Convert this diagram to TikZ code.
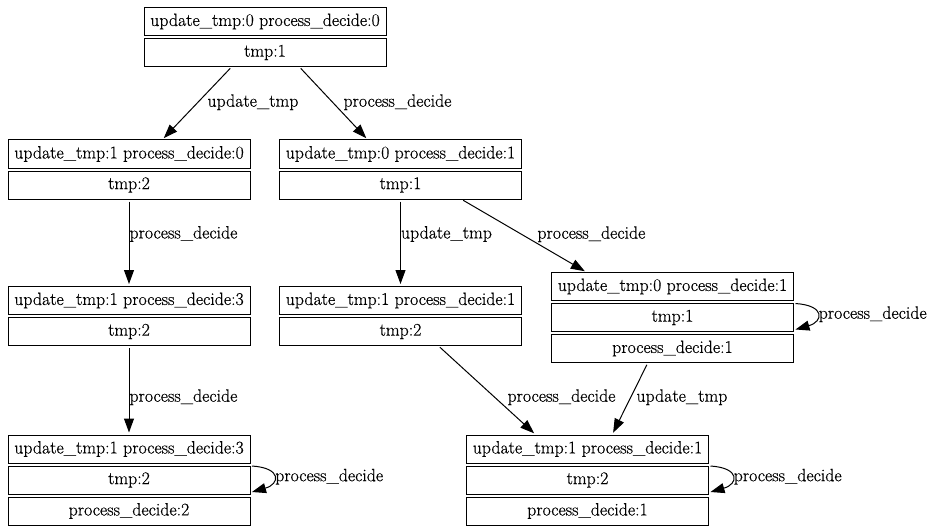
\documentclass[tikz,border=0pt]{standalone}
\usepackage{fontspec}
\setmainfont{Latin Modern Roman}[FakeBold=0.5]
\usetikzlibrary{arrows.meta, positioning}

\tikzset{
  cell/.style={draw, line width=1pt, minimum width=242pt, minimum height=28pt, inner sep=0pt, outer sep=0pt, font=\fontsize{17.8pt}{20pt}\selectfont},
  trans/.style={-{Triangle[length=14pt,width=10pt]}, line width=1pt, shorten <=2.5pt, shorten >=2.5pt},
  lbl/.style={anchor=west, inner sep=0pt, font=\fontsize{17.8pt}{20pt}\selectfont},
}

\begin{document}
\begin{tikzpicture}[x=1pt, y=-1pt]
\useasboundingbox (0,0) rectangle (937,532);

\node[cell] (s0) at (265, 21.5) {update\_tmp:0 process\_decide:0};
\node[cell, below=3pt of s0] (s0t) {tmp:1};

\node[cell] (s1) at (129, 154) {update\_tmp:1 process\_decide:0};
\node[cell, below=3pt of s1] (s1t) {tmp:2};

\node[cell] (s2) at (400.5, 154) {update\_tmp:0 process\_decide:1};
\node[cell, below=3pt of s2] (s2t) {tmp:1};

\node[cell] (s3) at (129, 300.5) {update\_tmp:1 process\_decide:3};
\node[cell, below=3pt of s3] (s3t) {tmp:2};

\node[cell] (s4) at (400.5, 300.5) {update\_tmp:1 process\_decide:1};
\node[cell, below=3pt of s4] (s4t) {tmp:2};

\node[cell] (s5) at (672.5, 286.5) {update\_tmp:0 process\_decide:1};
\node[cell, below=3pt of s5] (s5t) {tmp:1};
\node[cell, below=3pt of s5t] (s5p) {process\_decide:1};

\node[cell] (s6) at (129, 449) {update\_tmp:1 process\_decide:3};
\node[cell, below=3pt of s6] (s6t) {tmp:2};
\node[cell, below=3pt of s6t] (s6p) {process\_decide:2};

\node[cell] (s7) at (587.5, 449) {update\_tmp:1 process\_decide:1};
\node[cell, below=3pt of s7] (s7t) {tmp:2};
\node[cell, below=3pt of s7t] (s7p) {process\_decide:1};

\draw
([xshift=-33pt]s0t.south) edge[trans] node[lbl, pos=.486, xshift=9pt]{update\_tmp} ([xshift=33pt]s1.north)
([xshift=34pt]s0t.south) edge[trans] node[lbl, pos=.486, xshift=10.5pt]{process\_decide} ([xshift=-32.5pt]s2.north)
(s1t.south) edge[trans] node[lbl, pos=.4]{process\_decide} (s3.north)
(s2t.south) edge[trans] node[lbl, pos=.4]{update\_tmp} (s4.north)
([xshift=60.5pt]s2t.south) edge[trans] node[lbl, pos=.479, xshift=15.6pt]{process\_decide} ([xshift=-85.5pt]s5.north)
(s3t.south) edge[trans] node[lbl, pos=.578]{process\_decide} (s6.north)
([xshift=37.5pt]s4t.south) edge[trans] node[lbl, pos=.578, xshift=12.4pt]{process\_decide} ([xshift=-51.5pt]s7.north)
([xshift=-24.5pt]s5p.south) edge[trans] node[lbl, pos=.479, xshift=5.2pt]{update\_tmp} ([xshift=24.5pt]s7.north);

% self loops
\draw[trans, shorten <=0pt, shorten >=0pt] ([xshift=2pt,yshift=14pt]s5t.east) .. controls +(30pt,-2pt) and +(28pt,8pt) .. ([xshift=2pt,yshift=-12pt]s5t.east) node[lbl, midway, xshift=1pt]{process\_decide};
\draw[trans, shorten <=0pt, shorten >=0pt] ([xshift=2pt,yshift=14pt]s6t.east) .. controls +(30pt,-2pt) and +(28pt,8pt) .. ([xshift=2pt,yshift=-12pt]s6t.east) node[lbl, midway, xshift=1pt]{process\_decide};
\draw[trans, shorten <=0pt, shorten >=0pt] ([xshift=2pt,yshift=14pt]s7t.east) .. controls +(30pt,-2pt) and +(28pt,8pt) .. ([xshift=2pt,yshift=-12pt]s7t.east) node[lbl, midway, xshift=1pt]{process\_decide};
\end{tikzpicture}
\end{document}
